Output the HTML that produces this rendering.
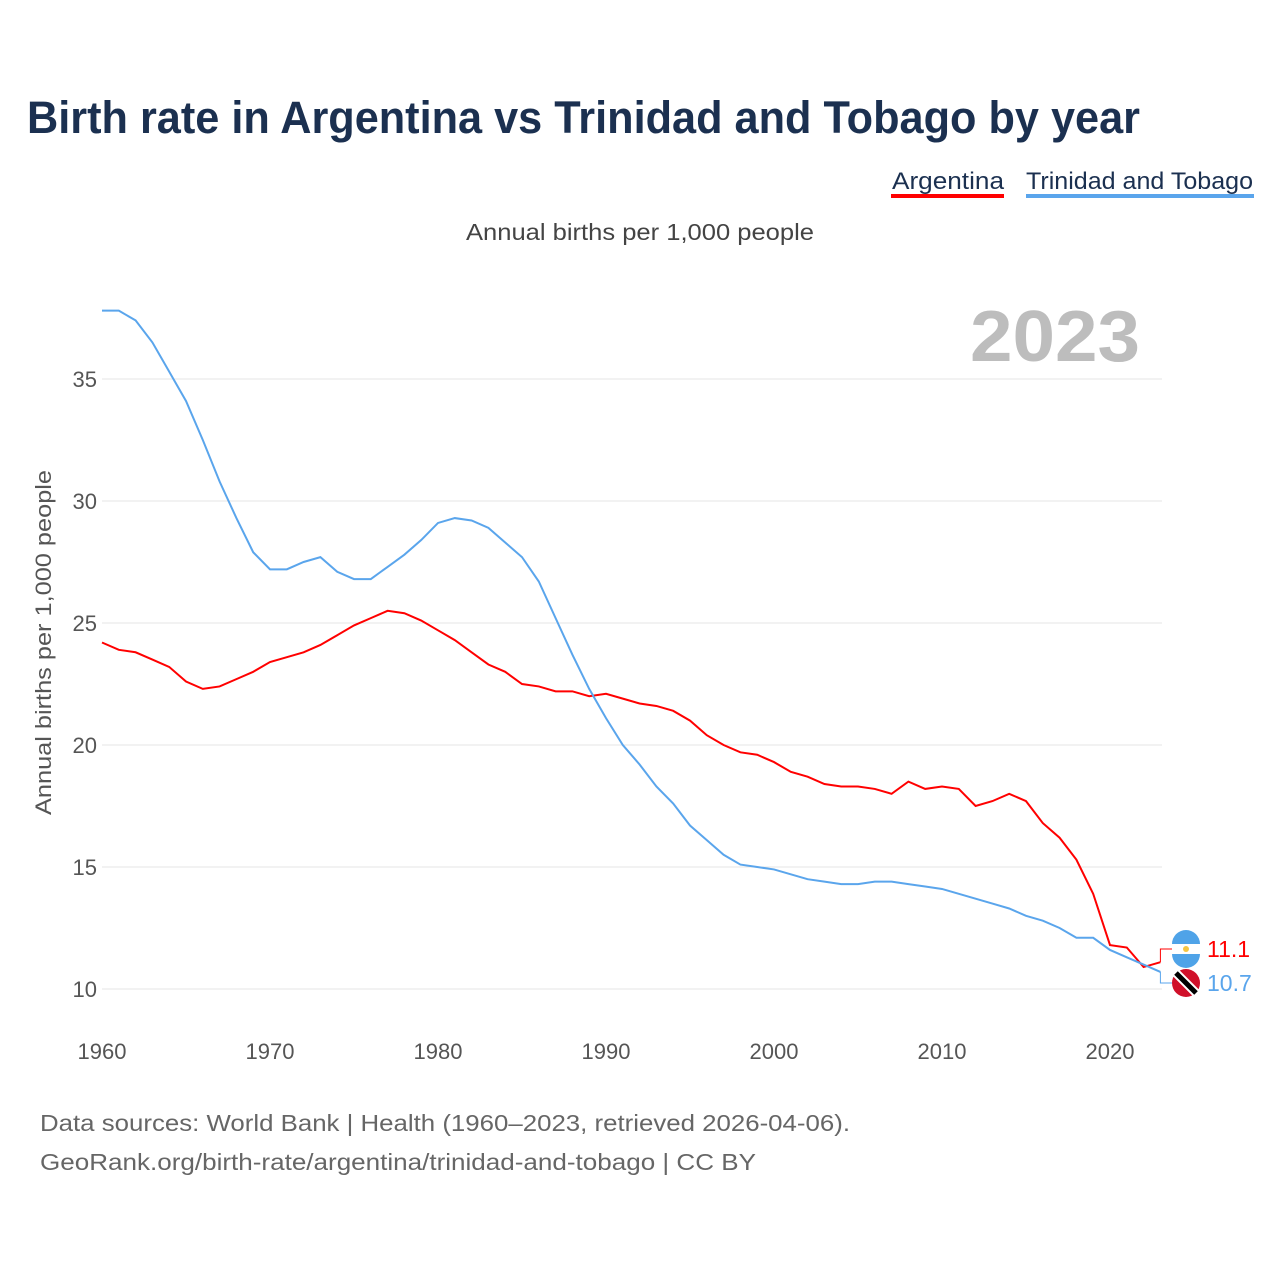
<!DOCTYPE html>
<html><head><meta charset="utf-8"><style>
body{margin:0;width:1280px;height:1280px;background:#fff;font-family:"Liberation Sans",sans-serif;overflow:hidden}
</style></head><body>
<svg width="1280" height="1280">
<text x="27" y="133" font-size="45" font-weight="bold" fill="#1b3050" textLength="1113" lengthAdjust="spacingAndGlyphs">Birth rate in Argentina vs Trinidad and Tobago by year</text>
<g><text x="892" y="189" font-size="24" fill="#1b3050" textLength="112" lengthAdjust="spacingAndGlyphs">Argentina</text><rect x="891" y="194" width="113" height="4" fill="#ff0000"/></g>
<g><text x="1026" y="189" font-size="24" fill="#1b3050" textLength="227" lengthAdjust="spacingAndGlyphs">Trinidad and Tobago</text><rect x="1026" y="194" width="228" height="4" fill="#5aa5ec"/></g>
<text x="466" y="240" font-size="23" fill="#444" textLength="348" lengthAdjust="spacingAndGlyphs">Annual births per 1,000 people</text>
<text x="970" y="361" font-size="72" font-weight="bold" fill="#bdbdbd" textLength="170" lengthAdjust="spacingAndGlyphs">2023</text>
<text transform="translate(51,815) rotate(-90)" font-size="22" fill="#555" textLength="345" lengthAdjust="spacingAndGlyphs">Annual births per 1,000 people</text>
<g id="grid"></g><g id="lines"></g><g id="ends"></g>
<text x="40" y="1131" font-size="23" fill="#666" textLength="810" lengthAdjust="spacingAndGlyphs">Data sources: World Bank | Health (1960–2023, retrieved 2026-04-06).</text>
<text x="40" y="1170" font-size="23" fill="#666" textLength="716" lengthAdjust="spacingAndGlyphs">GeoRank.org/birth-rate/argentina/trinidad-and-tobago | CC BY</text>
</svg>
<script>
const years=[];for(let y=1960;y<=2023;y++)years.push(y);
const argentina=[24.2,23.9,23.8,23.5,23.2,22.6,22.3,22.4,22.7,23.0,23.4,23.6,23.8,24.1,24.5,24.9,25.2,25.5,25.4,25.1,24.7,24.3,23.8,23.3,23.0,22.5,22.4,22.2,22.2,22.0,22.1,21.9,21.7,21.6,21.4,21.0,20.4,20.0,19.7,19.6,19.3,18.9,18.7,18.4,18.3,18.3,18.2,18.0,18.5,18.2,18.3,18.2,17.5,17.7,18.0,17.7,16.8,16.2,15.3,13.9,11.8,11.7,10.9,11.1];
const trinidad=[37.8,37.8,37.4,36.5,35.3,34.1,32.5,30.8,29.3,27.9,27.2,27.2,27.5,27.7,27.1,26.8,26.8,27.3,27.8,28.4,29.1,29.3,29.2,28.9,28.3,27.7,26.7,25.2,23.7,22.3,21.1,20.0,19.2,18.3,17.6,16.7,16.1,15.5,15.1,15.0,14.9,14.7,14.5,14.4,14.3,14.3,14.4,14.4,14.3,14.2,14.1,13.9,13.7,13.5,13.3,13.0,12.8,12.5,12.1,12.1,11.6,11.3,11.0,10.7];
const yTicks=[10,15,20,25,30,35];
const xTicks=[1960,1970,1980,1990,2000,2010,2020];
const X=y=>102+(y-1960)*16.8, Y=v=>989-(v-10)*24.4;
const NS='http://www.w3.org/2000/svg';
function mk(t,a,p){const e=document.createElementNS(NS,t);for(const k in a)e.setAttribute(k,a[k]);p.appendChild(e);return e;}
const grid=document.getElementById('grid');
yTicks.forEach(v=>{
const l=mk('line',{x1:102,x2:1162,y1:Y(v),y2:Y(v),stroke:'#e6e6e6'},grid);


const t=mk('text',{x:97,y:Y(v)+8,'font-size':22,fill:'#555','text-anchor':'end'},grid);t.textContent=v;


});
xTicks.forEach(v=>{
const t=mk('text',{x:X(v),y:1059,'font-size':22,fill:'#555','text-anchor':'middle'},grid);t.textContent=v;


});
const lines=document.getElementById('lines');
[[argentina,'#ff0000','line-argentina'],[trinidad,'#5aa5ec','line-trinidad']].forEach(([d,c,n])=>{
const p=mk('path',{d:d.map((v,i)=>(i?'L':'M')+X(years[i])+','+Y(v)).join(''),fill:'none',stroke:c,'stroke-width':2},lines);


});
const ends=document.getElementById('ends');
const la=argentina[argentina.length-1], lt=trinidad[trinidad.length-1];
const ya=Math.min(Y(la),949), yt=Math.max(Y(lt),983), xe=X(2023);
mk('path',{d:`M${xe},${Y(la)}H${xe}V${ya}H1172`,stroke:'#ff0000',fill:'none'},ends);
mk('path',{d:`M${xe},${Y(lt)}V${yt}H1172`,stroke:'#5aa5ec',fill:'none'},ends);
const fa=mk('g',{},ends);


mk('circle',{cx:1186,cy:ya,r:14,fill:'#fff'},fa);
mk('path',{d:`M1172,${ya-5}A14,14 0 0 1 1200,${ya-5}Z`,fill:'#4fa3e8'},fa);
mk('path',{d:`M1172,${ya+5}A14,14 0 0 0 1200,${ya+5}Z`,fill:'#4fa3e8'},fa);
mk('circle',{cx:1186,cy:ya,r:3,fill:'#f5c542'},fa);
const ft=mk('g',{},ends);


mk('circle',{cx:1186,cy:yt,r:14,fill:'#d0102a'},ft);
mk('line',{x1:1176,y1:yt-10,x2:1196,y2:yt+10,stroke:'#fff','stroke-width':9},ft);
mk('line',{x1:1176,y1:yt-10,x2:1196,y2:yt+10,stroke:'#000','stroke-width':5},ft);
const ta=mk('text',{x:1207,y:ya+8,'font-size':23,fill:'#ff0000'},ends);ta.textContent=la.toFixed(1);


const tt=mk('text',{x:1207,y:yt+8,'font-size':23,fill:'#5aa5ec'},ends);tt.textContent=lt.toFixed(1);


</script>
</body></html>
